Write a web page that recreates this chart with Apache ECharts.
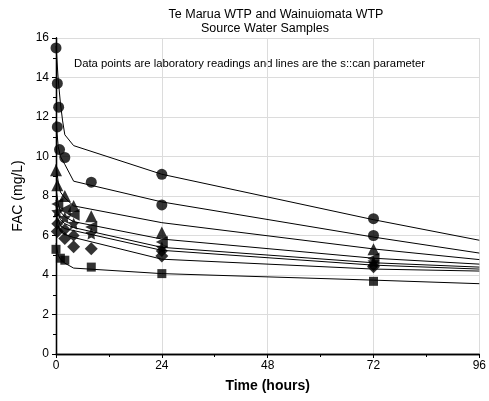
<!DOCTYPE html>
<html><head><meta charset="utf-8">
<script src="https://cdn.jsdelivr.net/npm/echarts@6/dist/echarts.min.js"></script>
<style>html,body{margin:0;padding:0;background:#fff}#c{width:489px;height:401px}</style>
</head><body><div id="c"></div>
<script>
// s::can parameter lines [time(h), FAC mg/L]
const line1 = [[0,15.6],[0.5,13.9],[1,12.7],[1.5,11.8],[2,11.1],[4,10.55],[24,9.1],[72,6.8],[96,5.76]];
const line2 = [[0,11.8],[0.5,10.5],[1,10.0],[2,9.6],[4,8.75],[24,7.7],[72,5.92],[96,5.11]];
const line3 = [[0,9.6],[0.5,8.7],[1,8.2],[2,7.9],[4,7.5],[24,6.65],[72,5.32],[96,4.78]];
const line4 = [[0,8.4],[0.5,7.6],[1,7.2],[2,6.95],[4,6.7],[24,5.82],[72,4.85],[96,4.55]];
const line5 = [[0,7.8],[0.5,7.1],[1,6.8],[2,6.6],[4,6.4],[24,5.4],[72,4.62],[96,4.4]];
const line6 = [[0,7.5],[0.5,6.8],[1,6.5],[2,6.35],[4,6.25],[24,5.25],[72,4.5],[96,4.3]];
const line7 = [[0,7.1],[0.5,6.5],[1,6.2],[2,6.05],[4,5.9],[24,4.8],[72,4.3],[96,4.2]];
const line8 = [[0,5.6],[0.5,5.0],[1,4.8],[2,4.6],[4,4.35],[24,4.07],[72,3.74],[96,3.56]];
// laboratory readings
const lab1 = [[0,15.5],[0.3,13.7],[0.6,12.5],[24,9.1],[72,6.85]];
const lab2 = [[0.3,11.5],[0.8,10.35],[2,9.95],[8,8.7],[24,7.55],[72,6.0]];
const lab3 = [[0,9.3],[0.3,8.55],[2,8.0],[4,7.5],[8,6.97],[24,6.15],[72,5.3]];
const lab4 = [[0.3,7.6],[2,7.3],[4,7.05],[8,6.43],[24,5.67],[72,4.83]];
const lab5 = [[0.3,7.2],[2,6.9],[4,6.6],[8,6.1],[24,5.39],[72,4.66]];
const lab6 = [[0.3,6.6],[2,6.3],[4,6.0],[24,5.21],[72,4.5]];
const lab7 = [[0.3,6.2],[2,5.85],[4,5.43],[8,5.33],[24,4.96],[72,4.42]];
const lab8 = [[0,5.3],[1,4.85],[2,4.75],[8,4.4],[24,4.07],[72,3.68]];
const xTicks = [0,24,48,72,96];
const yTicks = [0,2,4,6,8,10,12,14,16];

const star = 'path://M0,-10 L2.9,-4 9.5,-3.1 4.7,1.5 5.9,8.1 0,5 -5.9,8.1 -4.7,1.5 -9.5,-3.1 -2.9,-4Z';
const lines = [line1,line2,line3,line4,line5,line6,line7,line8];
const labs = [
  {d:lab1, s:'circle', z:11},
  {d:lab2, s:'circle', z:11},
  {d:lab3, s:'triangle', z:12},
  {d:lab4, s:'triangle', z:12, r:90},
  {d:lab5, s:star, z:12},
  {d:lab6, s:'diamond', z:12},
  {d:lab7, s:'diamond', z:13},
  {d:lab8, s:'rect', z:9}
];
const series = [];
lines.forEach(l => series.push({type:'line', data:l, showSymbol:false, lineStyle:{color:'#000', width:1}, silent:true, z:2}));
labs.forEach(m => series.push({type:'scatter', data:m.d, symbol:m.s, symbolSize:m.z, symbolRotate:m.r||0, itemStyle:{color:'#000'}, z:3}));

const font = 'Liberation Sans, Arial, sans-serif';
const chart = echarts.init(document.getElementById('c'));
chart.setOption({
  animation:false,
  backgroundColor:'#fff',
  grid:{left:56, right:7, top:38, bottom:47},
  graphic:[
    {type:'text', x:276, y:8, style:{text:'Te Marua WTP and Wainuiomata WTP', font:'12.5px Liberation Sans, Arial, sans-serif', fill:'#000', textAlign:'center', textVerticalAlign:'top'}},
    {type:'text', x:265, y:22, style:{text:'Source Water Samples', font:'12.5px Liberation Sans, Arial, sans-serif', fill:'#000', textAlign:'center', textVerticalAlign:'top'}},
    {type:'text', x:74, y:58, style:{text:'Data points are laboratory readings and lines are the s::can parameter', font:'11.3px Liberation Sans, Arial, sans-serif', fill:'#000', textVerticalAlign:'top'}}
  ],
  xAxis:[{type:'value', min:xTicks[0], max:xTicks[xTicks.length-1], interval:24,
    name:'Time (hours)', nameLocation:'middle', nameGap:25,
    nameTextStyle:{fontFamily:font, fontSize:14, fontWeight:'bold', color:'#000'},
    axisLine:{lineStyle:{color:'#000', width:1.3}},
    axisTick:{inside:false, length:4, lineStyle:{color:'#000'}},
    minorTick:{show:true, splitNumber:2, length:3, lineStyle:{color:'#000'}},
    axisLabel:{fontFamily:font, fontSize:12, color:'#000', margin:6},
    splitLine:{show:true, lineStyle:{color:'#dcdcdc', width:1}}},
   {type:'value', position:'top', min:0, max:96, interval:24,
    axisLine:{lineStyle:{color:'#000', width:1.3}},
    axisTick:{inside:true, length:4, lineStyle:{color:'#000'}},
    minorTick:{show:true, splitNumber:2, length:3, lineStyle:{color:'#000'}},
    axisLabel:{show:false}, splitLine:{show:false}}],
  yAxis:[{type:'value', min:yTicks[0], max:yTicks[yTicks.length-1], interval:2,
    name:'FAC (mg/L)', nameLocation:'middle', nameGap:30,
    nameTextStyle:{fontFamily:font, fontSize:14, color:'#000'},
    axisLine:{lineStyle:{color:'#000', width:1.3}},
    axisTick:{inside:false, length:4, lineStyle:{color:'#000'}},
    minorTick:{show:true, splitNumber:2, length:3, lineStyle:{color:'#000'}},
    axisLabel:{fontFamily:font, fontSize:12, color:'#000', margin:7},
    splitLine:{show:true, lineStyle:{color:'#dcdcdc', width:1}}},
   {type:'value', position:'right', min:0, max:16, interval:2,
    axisLine:{lineStyle:{color:'#000', width:1.3}},
    axisTick:{inside:true, length:4, lineStyle:{color:'#000'}},
    minorTick:{show:true, splitNumber:2, length:3, lineStyle:{color:'#000'}},
    axisLabel:{show:false}, splitLine:{show:false}}],
  series: series
});
</script></body></html>
